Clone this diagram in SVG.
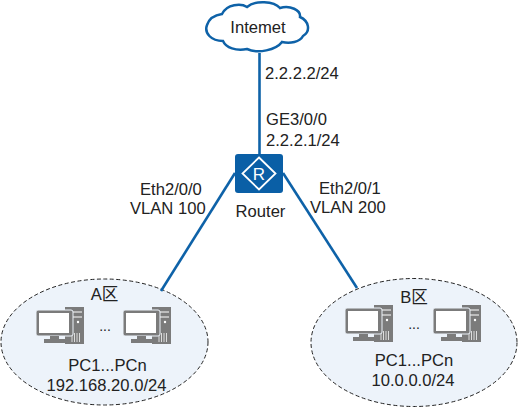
<svg xmlns="http://www.w3.org/2000/svg" width="519" height="410" viewBox="0 0 519 410">
<style>
text{font-family:"Liberation Sans",Arial,"Noto Sans CJK SC",sans-serif;font-size:16.6px;fill:#222}
.m{text-anchor:middle}
.d{font-size:14px}
.link{stroke:#0e62a8;stroke-width:2.6;fill:none}
.zone{fill:#edf3fa;stroke:#222;stroke-width:1;stroke-dasharray:4 2.5}
</style>
<defs>
<g id="pc">
<path d="M29 0H48V37H29Z" fill="#7b7b7b"/>
<path d="M32 5H46M32 10H46" stroke="#fff" stroke-width="1" fill="none"/>
<path d="M36 26V35M38.5 26V35M41 26V35M43.5 26V35" stroke="#ddd" stroke-width="1"/>
<circle cx="42" cy="15" r="1.2" fill="#fff"/>
<rect x="0" y="3" width="37" height="26" rx="2" fill="#7b7b7b" stroke="#edf3fa" stroke-width="1"/>
<rect x="3" y="6" width="30" height="20" fill="#fff"/>
<path d="M14 29H23V32H31V36H8V32H14Z" fill="#7b7b7b"/>
</g>
</defs>
<g id="zones">
<g id="zone-a"><ellipse class="zone" cx="104.5" cy="342" rx="103.5" ry="63"/></g>
<g id="zone-b"><ellipse class="zone" cx="414" cy="342.5" rx="103" ry="64"/></g>
</g>
<g id="connectors">
<path class="link" d="M259.500 53V154"/>
<path class="link" d="M235 173L161 291"/>
<path class="link" d="M283 173L357 288"/>
</g>
<g id="internet">
<path d="M222 14C227 4 241 3 247 7C255 0 274 1 280 8C290 5 301 10 300 17C309 21 311 31 303 36C300 42 290 44 282 42C276 50 258 54 247 49C236 51 226 48 223 41C211 41 204 33 207 25C209 19 215 15 222 14Z" fill="#fff" stroke="#0e62a8" stroke-width="2.500"/>
<text class="m" x="258" y="33">Intemet</text>
</g>
<g id="router">
<rect x="235" y="154" width="48" height="39" rx="3" fill="#0a5fa6"/>
<path d="M259 157.500L275.500 173.500L259 189.500L242.500 173.500Z" fill="none" stroke="#fff" stroke-width="1.800"/>
<text class="m" x="259" y="180" style="fill:#fff;font-size:17px">R</text>
<text class="m" x="260.500" y="217">Router</text>
</g>
<g id="zone-a-content">
<text class="m" x="104.500" y="300">A区</text>
<use href="#pc" x="36" y="307"/>
<use href="#pc" x="123" y="307"/>
<text class="m d" x="105" y="331">...</text>
<text class="m" x="107.500" y="371">PC1...PCn</text>
<text class="m" x="106.500" y="391">192.168.20.0/24</text>
</g>
<g id="zone-b-content">
<text class="m" x="414" y="303">B区</text>
<use href="#pc" x="345" y="305"/>
<use href="#pc" x="433" y="305"/>
<text class="m d" x="414" y="329">...</text>
<text class="m" x="414" y="366">PC1...PCn</text>
<text class="m" x="413" y="386">10.0.0.0/24</text>
</g>
<g id="labels">
<text x="265" y="79">2.2.2.2/24</text>
<text x="266" y="125">GE3/0/0</text>
<text x="266" y="146">2.2.2.1/24</text>
<text x="140" y="195">Eth2/0/0</text>
<text x="130" y="214">VLAN 100</text>
<text x="319" y="194">Eth2/0/1</text>
<text x="310" y="213">VLAN 200</text>
</g>
</svg>
